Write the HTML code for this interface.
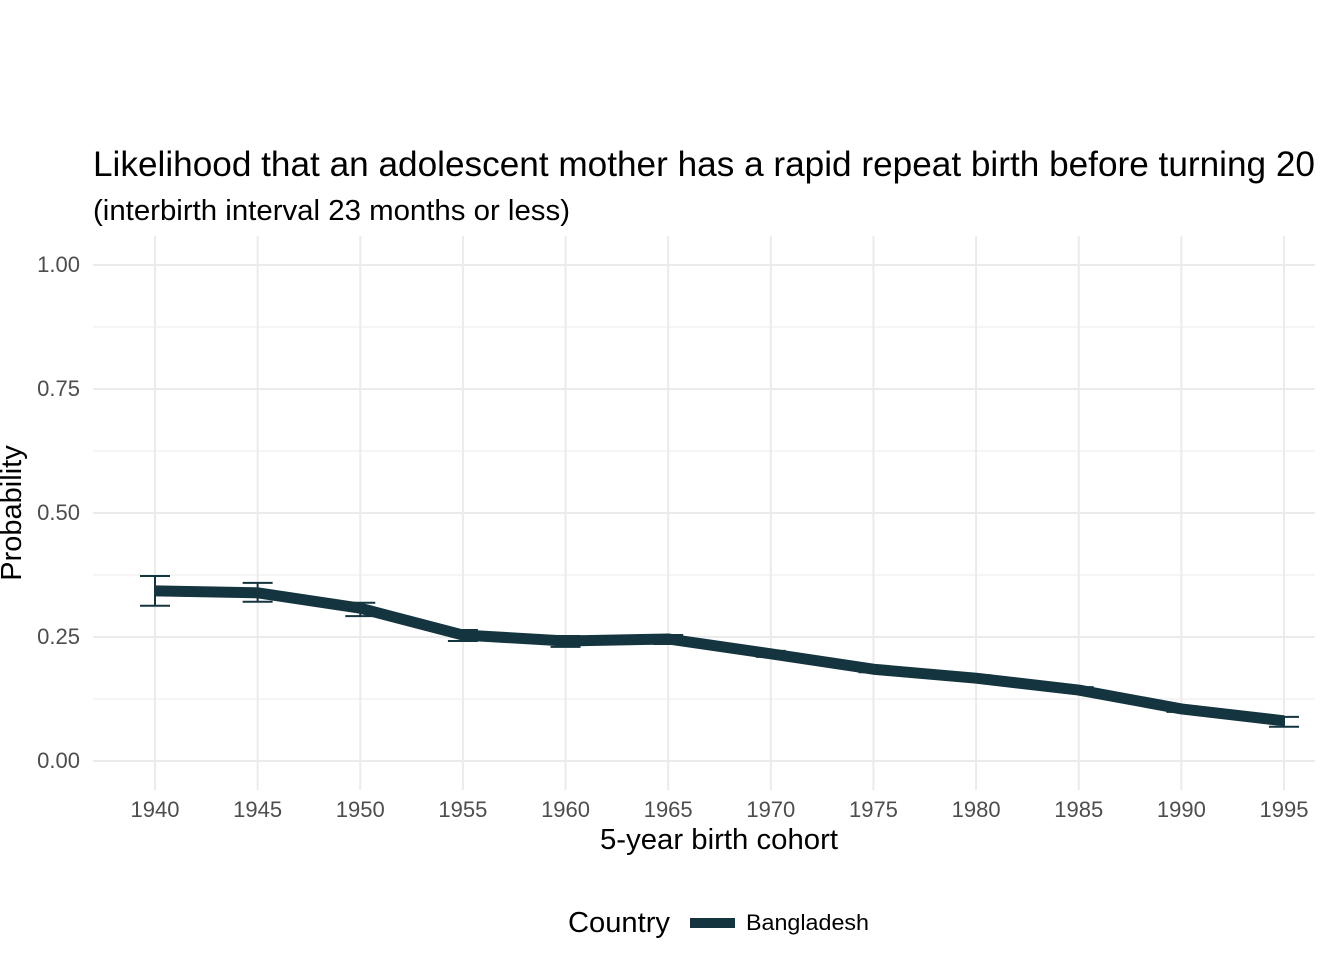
<!DOCTYPE html>
<html><head><meta charset="utf-8"><style>
body{margin:0;background:#fff;}
svg{display:block;font-family:"Liberation Sans",Arial,sans-serif;}
</style></head><body>
<svg id="c" width="1344" height="960">
<text x="93" y="176" font-size="35" textLength="1222" lengthAdjust="spacingAndGlyphs" fill="#000">Likelihood that an adolescent mother has a rapid repeat birth before turning 20</text>
<text x="93" y="220" font-size="29" textLength="477" lengthAdjust="spacingAndGlyphs" fill="#000">(interbirth interval 23 months or less)</text>
<g id="grid"></g>
<g id="axes"></g>
<g id="marks"></g>
<text x="719" y="849" font-size="29" textLength="238" lengthAdjust="spacingAndGlyphs" text-anchor="middle">5-year birth cohort</text>
<text transform="translate(21,513) rotate(-90)" font-size="29" text-anchor="middle">Probability</text>
<g>
<text x="568" y="932" font-size="29" textLength="102" lengthAdjust="spacingAndGlyphs">Country</text>
<line x1="690" y1="923" x2="735" y2="923" stroke="#14343f" stroke-width="10"/>
<text x="746" y="930" font-size="22" textLength="123" lengthAdjust="spacingAndGlyphs">Bangladesh</text>
</g>
</svg>
<script>
const years=[1940,1945,1950,1955,1960,1965,1970,1975,1980,1985,1990,1995];
const prob=[0.343,0.339,0.308,0.254,0.242,0.246,0.216,0.185,0.167,0.143,0.105,0.081];
const lower=[0.313,0.321,0.292,0.242,0.230,0.236,0.210,0.179,0.161,0.137,0.099,0.069];
const upper=[0.373,0.359,0.319,0.264,0.252,0.254,0.222,0.191,0.173,0.149,0.111,0.089];
const yTicks=[0,0.25,0.5,0.75,1];
const yTickLabels=["0.00","0.25","0.50","0.75","1.00"];
const NS="http://www.w3.org/2000/svg";
const xs=v=>155+(v-1940)*(1284-155)/55;
const ys=v=>761-v*496;
function mk(p,t,a){const e=document.createElementNS(NS,t);for(const k in a)e.setAttribute(k,a[k]);p.appendChild(e);return e;}
const grid=document.getElementById('grid'),axes=document.getElementById('axes'),marks=document.getElementById('marks');
for(let i=0;i<yTicks.length-1;i++){const m=(yTicks[i]+yTicks[i+1])/2;
 const l=mk(grid,'line',{x1:93,x2:1315,y1:ys(m),y2:ys(m),stroke:'#ebebeb','stroke-width':1});
 
 }
years.forEach(y=>{const l=mk(grid,'line',{x1:xs(y),x2:xs(y),y1:236,y2:790,stroke:'#ebebeb','stroke-width':2});
 
 
 const t=mk(axes,'text',{x:xs(y),y:817,'font-size':22,fill:'#4d4d4d','text-anchor':'middle'});t.textContent=y;
 
 });
yTicks.forEach((v,i)=>{const l=mk(grid,'line',{x1:93,x2:1315,y1:ys(v),y2:ys(v),stroke:'#ebebeb','stroke-width':2});
 
 
 const t=mk(axes,'text',{x:80,y:ys(v)+7,'font-size':22,fill:'#4d4d4d','text-anchor':'end'});t.textContent=yTickLabels[i];
 
 });
const ln=mk(marks,'polyline',{points:years.map((y,i)=>xs(y)+','+ys(prob[i])).join(' '),fill:'none',stroke:'#14343f','stroke-width':11,'stroke-linejoin':'round'});


years.forEach((y,i)=>{const x=xs(y),a=ys(lower[i]),b=ys(upper[i]);
 const g=mk(marks,'path',{d:`M${x-15},${a}H${x+15}M${x-15},${b}H${x+15}M${x},${a}V${b}`,stroke:'#14343f','stroke-width':2,fill:'none'});
 
 });
</script>
</body></html>
